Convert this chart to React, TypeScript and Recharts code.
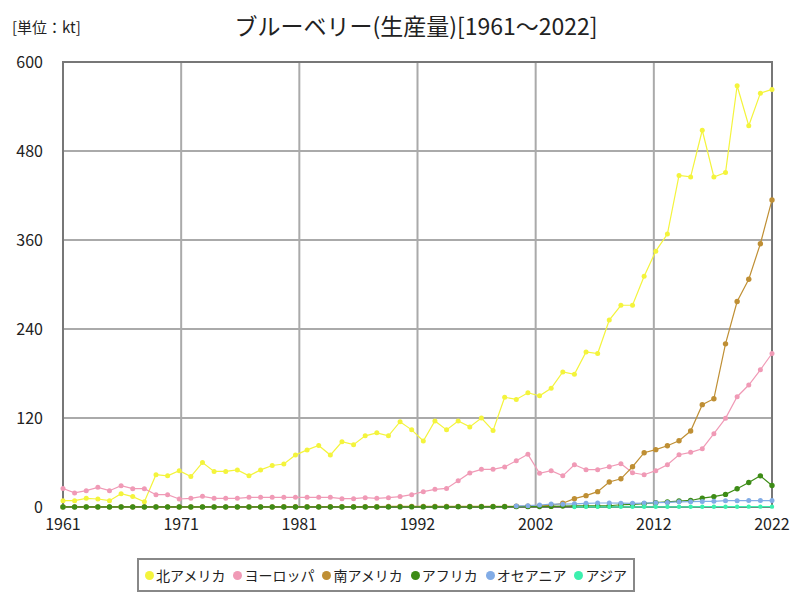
import React from "react"
import { LineChart, Line, XAxis, YAxis, CartesianGrid, ReferenceArea, Legend } from "recharts"

const firstYear = 1961
const lastYear = 2022

const northAmerica = [
  8.5, 8.5, 11.7, 10.8, 8.5, 18, 14, 7, 43.5, 42,
  49, 41, 60, 48, 48, 50, 42, 50, 56, 58,
  70, 77, 83, 70, 88, 84, 96, 100, 96, 115,
  104, 89, 116, 104, 116, 108, 120, 103, 148, 145,
  154, 150, 160, 182, 179, 209, 207, 252, 272, 272,
  311, 345, 368, 447, 445, 508, 445, 451, 568, 514,
  558, 563,
]

const europe = [
  25, 19, 22, 26.5, 22, 28.7, 24.7, 24.7, 16.6, 16.6,
  10.8, 11.7, 14.4, 11.7, 11.7, 11.7, 13, 13, 13, 13,
  13, 13, 13, 13, 11.2, 11.2, 12.6, 11.7, 12.6, 14,
  16.6, 20.7, 23.8, 25, 35.5, 46, 50.8, 50.8, 54, 62.4,
  71, 45.4, 49, 42, 57, 50.3, 50.3, 54.3, 58.4, 46.2,
  43.5, 49, 57, 70.5, 73.7, 78.6, 98.8, 119.5, 148.7, 164.5,
  185, 207,
]

const southAmerica = [
  0.2, 0.2, 0.2, 0.2, 0.2, 0.2, 0.2, 0.2, 0.2, 0.2,
  0.2, 0.2, 0.2, 0.2, 0.2, 0.2, 0.2, 0.2, 0.2, 0.4,
  0.4, 0.4, 0.4, 0.4, 0.4, 0.4, 0.4, 0.4, 0.8, 0.8,
  0.8, 0.8, 0.8, 0.8, 0.8, 0.8, 0.8, 0.8, 0.8, 1,
  1.2, 1.5, 2.2, 5, 11.2, 15.3, 20.7, 33.7, 38, 54.3,
  73.2, 77.3, 82.6, 89.4, 102.4, 138, 146, 220, 277, 307,
  355, 414,
]

const africa = [
  0.1, 0.1, 0.1, 0.1, 0.1, 0.1, 0.1, 0.1, 0.1, 0.1,
  0.1, 0.1, 0.1, 0.1, 0.1, 0.1, 0.1, 0.1, 0.1, 0.1,
  0.1, 0.1, 0.1, 0.1, 0.1, 0.1, 0.1, 0.1, 0.1, 0.2,
  0.2, 0.2, 0.2, 0.2, 0.3, 0.3, 0.3, 0.4, 0.4, 0.5,
  0.5, 0.6, 0.8, 1.3, 1.6, 1.6, 1.6, 1.7, 3, 3.5,
  4.5, 5.8, 6.8, 8, 8.8, 12, 14, 17, 24.7, 33,
  42, 29,
]

// no figures before 2000
const oceania = [
  null, null, null, null, null, null, null, null, null, null,
  null, null, null, null, null, null, null, null, null, null,
  null, null, null, null, null, null, null, null, null, null,
  null, null, null, null, null, null, null, null, null, 1.5,
  1.8, 2.7, 4, 3.8, 4.3, 5, 5.4, 5.4, 5.2, 5,
  5.3, 5.8, 6.2, 7, 7.2, 7.5, 7.6, 8.5, 8.5, 8.6,
  8.6, 8.6,
]

// no figures before 2005
const asia = [
  null, null, null, null, null, null, null, null, null, null,
  null, null, null, null, null, null, null, null, null, null,
  null, null, null, null, null, null, null, null, null, null,
  null, null, null, null, null, null, null, null, null, null,
  null, null, null, null, 0.1, 0.2, 0.2, 0.2, 0.2, 0.2,
  0.3, 0.3, 0.3, 0.3, 0.3, 0.4, 0.4, 0.4, 0.4, 0.5,
  0.5, 0.5,
]

const xTickLabels = ["1961", "1971", "1981", "1992", "2002", "2012", "2022"]
const yTicks = [0, 120, 240, 360, 480, 600]

const series = [
  { key: "na", name: "北アメリカ", color: "#f4f43c", values: northAmerica, r: 2.5 },
  { key: "eu", name: "ヨーロッパ", color: "#f09ab6", values: europe, r: 2.5 },
  { key: "sa", name: "南アメリカ", color: "#bf8f34", values: southAmerica, r: 2.7 },
  { key: "af", name: "アフリカ", color: "#3d8c16", values: africa, r: 2.7 },
  { key: "oc", name: "オセアニア", color: "#82ace6", values: oceania, r: 2.5 },
  { key: "as", name: "アジア", color: "#3cf0ae", values: asia, r: 2.2 },
]

const data = northAmerica.map((_, i) => {
  const row: any = { year: firstYear + i }
  series.forEach((s) => (row[s.key] = s.values[i]))
  return row
})

// labels sit at even steps across the span and are rounded
const xTicks = xTickLabels.map((_, i) => firstYear + (i * (lastYear - firstYear)) / (xTickLabels.length - 1))

const font = '"Noto Sans CJK JP", "Noto Sans", sans-serif'

const LegendBox = () => (
  <div
    style={{
      display: "flex",
      gap: 8,
      alignItems: "center",
      border: "2px solid #888",
      background: "#fff",
      padding: "5px 6px",
      fontSize: 14,
      fontFamily: font,
      color: "#222",
      width: "fit-content",
      margin: "0 auto",
    }}
  >
    {series.map((s) => (
      <span key={s.key} style={{ display: "flex", alignItems: "center" }}>
        <span
          style={{ width: 9, height: 9, borderRadius: "50%", background: s.color, display: "inline-block", marginRight: 2 }}
        />
        {s.name}
      </span>
    ))}
  </div>
)

export default function App() {
  return (
    <div style={{ position: "absolute", left: 0, top: 0, width: 800, height: 600, background: "#fff", fontFamily: font }}>
      <div style={{ position: "absolute", left: 12, top: 16, fontSize: 15, color: "#222" }}>[単位：kt]</div>
      <div style={{ position: "absolute", left: 0, width: 832, top: 8, textAlign: "center", fontSize: 23, color: "#222" }}>
        ブルーベリー(生産量)[1961～2022]
      </div>
      <LineChart width={800} height={600} data={data} margin={{ top: 62, right: 28, left: 0, bottom: 29 }}>
        <CartesianGrid stroke="#aaa" strokeWidth={2} />
        <XAxis
          dataKey="year"
          type="number"
          domain={[firstYear, lastYear]}
          ticks={xTicks}
          tickFormatter={(v: number) => String(Math.round(v))}
          axisLine={false}
          tickLine={false}
          tickSize={0}
          tickMargin={12}
          tick={{ fill: "#222", fontSize: 16, fontFamily: font }}
          interval={0}
        />
        <YAxis
          type="number"
          domain={[0, 600]}
          ticks={yTicks}
          width={63}
          axisLine={false}
          tickLine={false}
          tickSize={0}
          tickMargin={20}
          tick={{ fill: "#222", fontSize: 16, fontFamily: font }}
          interval={0}
        />
        <ReferenceArea x1={firstYear} x2={lastYear} y1={0} y2={600} fill="none" stroke="#777" strokeWidth={2} />
        {series.map((s) => (
          <Line
            key={s.key}
            dataKey={s.key}
            name={s.name}
            stroke={s.color}
            strokeWidth={1.2}
            dot={{ r: s.r, fill: s.color, stroke: "none" }}
            activeDot={false}
            isAnimationActive={false}
          />
        ))}
        <Legend verticalAlign="bottom" wrapperStyle={{ bottom: 8 }} content={<LegendBox />} />
      </LineChart>
    </div>
  )
}
